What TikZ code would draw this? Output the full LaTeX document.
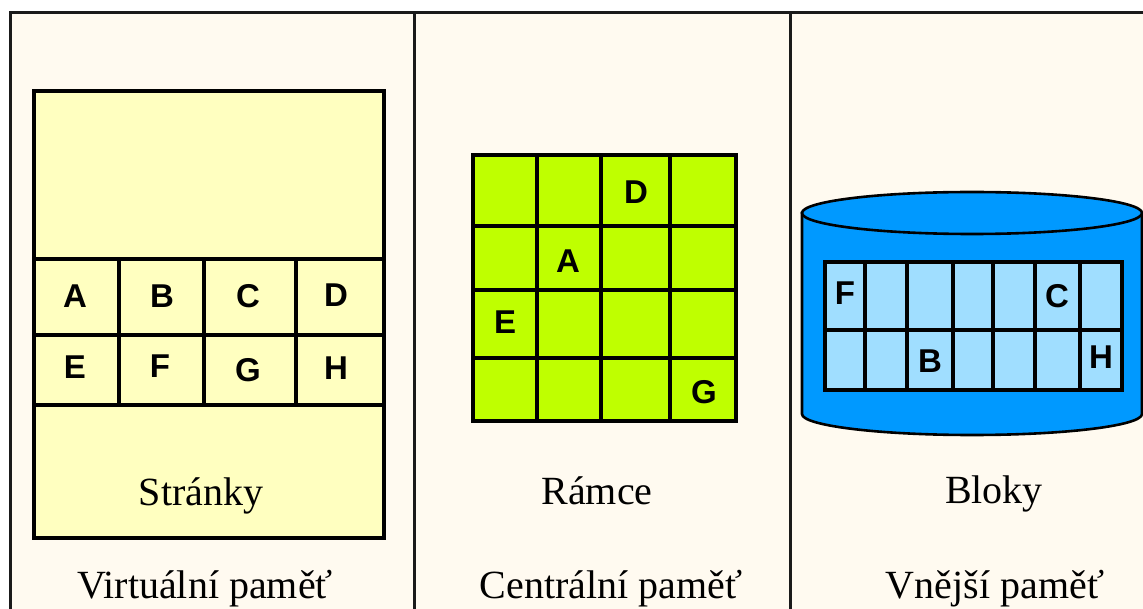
\documentclass[tikz,border=0pt]{standalone}
\usepackage{fontspec}
\setmainfont{Liberation Serif}
\newfontfamily\lettfont{Liberation Sans}
\definecolor{cream}{HTML}{FFFAF0}
\definecolor{pageyellow}{HTML}{FFFFC0}
\definecolor{framegreen}{HTML}{BFFF00}
\definecolor{diskblue}{HTML}{0099FF}
\definecolor{blockblue}{HTML}{A0DEFF}
\definecolor{frameline}{HTML}{1A1A1A}
\tikzset{
  cell/.style={draw=black, line width=3.2pt},
  lett/.style={inner sep=0pt, font=\lettfont\bfseries\fontsize{33}{33}\selectfont},
  caption/.style={inner sep=0pt, anchor=base, font=\fontsize{40}{44}\selectfont},
  divider/.style={draw=frameline, line width=3pt}
}
\begin{document}
\begin{tikzpicture}[x=1pt,y=-1pt]
\useasboundingbox (0,0) rectangle (1143,609);
\fill[white] (0,0) rectangle (1143,609);
\fill[cream] (10,13) rectangle (1143,609);
% frame
\draw[divider] (10,620) -- (10,13) -- (1150,13);
\draw[divider] (414,13) -- (414,620);
\draw[divider] (790,13) -- (790,620);

% ---------- Virtual memory ----------
\filldraw[cell, fill=pageyellow] (34,91) rectangle (384,538);
\draw[cell] (34,259) -- (384,259);
\draw[cell] (34,335) -- (384,335);
\draw[cell] (34,405) -- (384,405);
\foreach \x in {119,204,296} \draw[cell] (\x,259) -- (\x,405);
\node[lett] (vA) at (75,296) {A};
\node[lett] (vB) at (162,296) {B};
\node[lett] (vC) at (248,296) {C};
\node[lett] (vD) at (336,295) {D};
\node[lett] (vE) at (75,367) {E};
\node[lett] (vF) at (160,366) {F};
\node[lett] (vG) at (248,370) {G};
\node[lett] (vH) at (336,368) {H};
\node[caption] (str) at (201,505) {Stránky};
\node[caption] (virt) at (205,598) {Virtuální paměť};

% ---------- Central memory ----------
\filldraw[cell, fill=framegreen] (473,155) rectangle (736,421);
\foreach \x in {537,601,670} \draw[cell] (\x,155) -- (\x,421);
\foreach \y in {226,290,358} \draw[cell] (473,\y) -- (736,\y);
\node[lett] (cD) at (636,192) {D};
\node[lett] (cA) at (568,261) {A};
\node[lett] (cE) at (505,322) {E};
\node[lett] (cG) at (704,392) {G};
\node[caption] (ram) at (597,504) {Rámce};
\node[caption] (cent) at (611,598) {Centrální paměť};

% ---------- External memory ----------
\filldraw[draw=black, line width=2.6pt, fill=diskblue]
  (802,213) -- (802,414) arc[start angle=180, end angle=0, x radius=170, y radius=21]
  -- (1142,213) -- cycle;
\filldraw[draw=black, line width=2.6pt, fill=diskblue] (972,213) ellipse[x radius=170, y radius=21];
\filldraw[cell, fill=blockblue] (825,262) rectangle (1122,390);
\draw[cell] (825,330) -- (1122,330);
\foreach \x in {865,907,953,993,1035,1080} \draw[cell] (\x,262) -- (\x,390);
\node[lett] (eF) at (845,293) {F};
\node[lett] (eC) at (1057,296) {C};
\node[lett] (eB) at (930,361) {B};
\node[lett] (eH) at (1101,357) {H};
\node[caption] (blk) at (994,503) {Bloky};
\node[caption] (ext) at (995,598) {Vnější paměť};
\end{tikzpicture}
\end{document}
